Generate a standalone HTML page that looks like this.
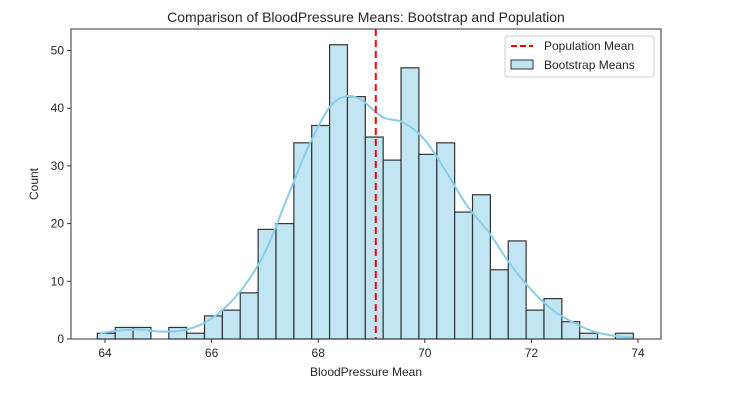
<!DOCTYPE html>
<html><head><meta charset="utf-8"><style>
body{margin:0;background:#fff;font-family:"Liberation Sans",sans-serif}
svg text{font-family:"Liberation Sans","DejaVu Sans",sans-serif;fill:#262626}
</style></head><body>
<svg id="chart" width="740" height="403">
<text x="366" y="22" text-anchor="middle" font-size="14">Comparison of BloodPressure Means: Bootstrap and Population</text>
<text x="366" y="376" text-anchor="middle" font-size="12">BloodPressure Mean</text>
<text x="38" y="184" text-anchor="middle" font-size="12" transform="rotate(-90 38 184)">Count</text>
</svg>
<script>
const binStart=63.856, binWidth=0.3352;
const counts=[1,2,2,0,2,1,4,5,8,19,20,34,37,51,42,35,31,47,32,34,22,25,12,17,5,7,3,1,0,1];
const kdeX=[63.9,64.3,64.7,65.0,65.4,65.8,66.2,66.6,67.0,67.4,67.8,68.2,68.5,68.8,69.2,69.6,70.0,70.4,70.8,71.2,71.6,72.0,72.4,72.8,73.2,73.6,73.9];
const kdeY=[1,1.5,1.6,1.3,1.4,2.5,5,9,15,24,33,40,42,41.5,38.5,37.5,34.5,29,23,18.5,13,8.5,5,2.8,1.2,0.5,0.3];
const xTicks=[64,66,68,70,72,74];
const yTicks=[0,10,20,30,40,50];
const popMean=69.08;
const X=v=>105+(v-64)*53.3, Y=v=>339-v*5.77;
const svg=document.getElementById('chart');const NS='http://www.w3.org/2000/svg';
function mk(t,a){const e=document.createElementNS(NS,t);for(const k in a)e.setAttribute(k,a[k]);svg.appendChild(e);return e;}
const pL=71,pR=661,pT=29,pB=339;
counts.forEach((c,i)=>{if(!c)return;const x0=X(binStart+i*binWidth),x1=X(binStart+(i+1)*binWidth);
const r=mk('rect',{x:x0,y:Y(c),width:x1-x0,height:pB-Y(c),fill:'#c1e5f3',stroke:'#333',"stroke-width":1.2});

});
const pts=kdeX.map((v,i)=>[X(v),Y(kdeY[i])]);
let d='M'+pts[0][0]+','+pts[0][1];
for(let i=0;i<pts.length-1;i++){const p0=pts[Math.max(i-1,0)],p1=pts[i],p2=pts[i+1],p3=pts[Math.min(i+2,pts.length-1)];
d+='C'+(p1[0]+(p2[0]-p0[0])/6)+','+(p1[1]+(p2[1]-p0[1])/6)+' '+(p2[0]-(p3[0]-p1[0])/6)+','+(p2[1]-(p3[1]-p1[1])/6)+' '+p2[0]+','+p2[1];}
const kl=mk('path',{d:d,fill:'none',stroke:'#87ceeb',"stroke-width":2});


const ml=mk('line',{x1:X(popMean),x2:X(popMean),y1:pT,y2:pB,stroke:'#ff0000',"stroke-width":2,"stroke-dasharray":"7,4"});


mk('rect',{x:pL,y:pT,width:pR-pL,height:pB-pT,fill:'none',stroke:'#333',"stroke-width":1});
xTicks.forEach(t=>{mk('line',{x1:X(t),x2:X(t),y1:pB,y2:pB+4,stroke:'#333'});
const tx=mk('text',{x:X(t),y:pB+18,"text-anchor":"middle","font-size":12});tx.textContent=t;

});
yTicks.forEach(t=>{mk('line',{x1:pL-4,x2:pL,y1:Y(t),y2:Y(t),stroke:'#333'});
const tx=mk('text',{x:pL-7,y:Y(t)+4,"text-anchor":"end","font-size":12});tx.textContent=t;

});
const g=mk('g',{});


g.innerHTML='<rect x="505" y="36" width="149" height="41" rx="3" fill="#fff" stroke="#ccc"/><line x1="511" y1="46" x2="533" y2="46" stroke="#ff0000" stroke-width="2" stroke-dasharray="6,3"/><text x="544" y="50" font-size="12">Population Mean</text><rect x="511" y="60" width="22" height="9" fill="#c1e5f3" stroke="#333"/><text x="544" y="69" font-size="12">Bootstrap Means</text>';
</script>
</body></html>
